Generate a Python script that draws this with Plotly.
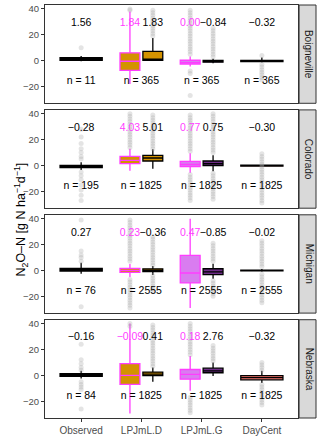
import plotly.graph_objects as go
from plotly.subplots import make_subplots

sites = ["Boigneville", "Colorado", "Michigan", "Nebraska"]
categories = ["Observed", "LPJmL.D", "LPJmL.G", "DayCent"]

# five-number summaries per site: [lower whisker, q1, median, q3, upper whisker]
observed_box = [[-0.5, 0.3, 1.2, 2.2, 3.5], [-3.5, -1.6, -0.8, 0.0, 2.5],
                [-2.5, -0.5, 0.5, 1.5, 6.0], [-2.5, -0.8, 0.3, 1.3, 3.5]]
lpjml_d_pink_box = [[-18, -7.5, -0.5, 6.0, 38], [-4, 1.5, 4.0, 7.0, 13],
                    [-5, -1.5, 0.0, 1.5, 5], [-29.5, -7, 0.0, 9.0, 40]]
lpjml_d_box = [[0, 0.3, 1.2, 7.2, 17.5], [-2.5, 3.5, 5.8, 7.8, 12.5],
               [-3.5, -1.0, 0.0, 1.2, 3.5], [-5, -0.3, 1.0, 2.5, 6]]
lpjml_g_pink_box = [[-4.5, -2.7, -1.5, 0.3, 3.2], [-5.5, -0.8, 0.8, 3.2, 9.5],
                    [-29, -9.7, -2.0, 11.7, 40], [-12, -3.0, 0.8, 4.5, 15]]
lpjml_g_box = [[-2, -1.2, -0.5, 0.2, 1.5], [-4.5, 0.0, 1.5, 3.5, 8.0],
               [-6.5, -3.3, -1.2, 1.3, 5.2], [-0.5, 2.0, 3.5, 5.5, 10]]
daycent_box = [[-1.5, -0.8, -0.3, 0.2, 2.5], [-1.0, -0.5, -0.2, 0.2, 0.8],
               [-1.0, -0.4, 0.0, 0.3, 1.0], [-6, -3.5, -1.8, -0.2, 3.5]]

# outlying daily values per site
observed_out = [
    [10],
    [28, 22, 17, 13, 10, 7, 5, -5, -8, -11, -15, -19, -23, -27],
    [39, 15, 12, 10, 7, -28],
    [24, 12, 9, 6, 4, -5, -7, -9, -11, -26],
]
lpjml_d_pink_out = [
    [39, 40],
    [14, 16, 18, 20, 22, 24, 26, 28, 30, 32, 34, 36, 38, 40],
    [7, 9, 11, 13, 15, 17, 19, 21, 23, 25, 27, 29, 31, 33, 35, 37, 39,
     -7, -9, -11, -13, -15, -17, -19, -21, -23, -25, -27, -29],
    [38, 40],
]
lpjml_d_out = [
    [19, 21, 23, 25, 27, 29, 31, 33, 35, 37, 39],
    [13, 15, 17, 19, 21, 23, 25, 27, 29, 31, 33, 35, 37, 39],
    [4, 6, 8, 10, 12, 14, 16, 18, 20, 22, 24, 26, -4, -6, -8, -10, -12, -14, -16],
    [7, 9, 11, 13, 15, 17, 19, 21, 23, 25, 27, 29, 31, 33, 35, 37, 39],
]
lpjml_g_pink_out = [
    [5, 7, 9, 11, 13, 15, 17, 19, 21, 23, 25, 27, 29, 31, 33, 35, 37, 39, -8, -10, -27],
    [11, 13, 15, 17, 19, 21, 23, 25, 27, 29, 31, 33, 35, 37, 39,
     -7, -9, -11, -13, -15, -17, -19, -21, -23, -25, -27],
    [],
    [16, 18, 20, 22, 24, 26, 28, 30, 32, 34, 36, 38, 40, -17, -19, -21, -23, -25, -27, -29],
]
lpjml_g_out = [
    [3, 5, 7, 9, 11, 13, 15, 17, 19, 21, 23, 25],
    [10, 12, 14, 16, 18, 20, 22, 24, 26, 28, 30, 32, 34, 36, 38, 40,
     -6, -8, -10, -12, -14, -16, -18, -20, -22, -24, -26],
    [7, 9, 11, 13, 15, 17, 19, 21, -8, -10, -12, -14, -16, -18, -20],
    [11, 13, 15, 17, 19, 21, 23],
]
daycent_out = [
    [4, -3, -5, -7, -9, -11, -13, -15],
    [9, 7, 5, 3, 1, -1, -3, -5, -7, -9, -11, -13, -15, -17, -19, -21, -23, -25, -27, -29],
    [23, 21, 19, 17, 15, 13, 11, 9, 7, 5, 3, -3, -5, -7, -9, -11, -13, -15,
     -17, -19, -21, -23, -25],
    [10, 8, 6, 4, -7, -9, -11, -13, -15, -17, -19, -21, -23],
]

observed_mean = [1.56, -0.28, 0.27, -0.16]
lpjml_d_pink_mean = [1.84, 4.03, 0.23, -0.09]
lpjml_d_mean = [1.83, 5.01, -0.36, 0.41]
lpjml_g_pink_mean = [0.00, 0.77, 0.47, 0.18]
lpjml_g_mean = [-0.84, 0.75, -0.85, 2.76]
daycent_mean = [-0.32, -0.30, -0.02, -0.32]

observed_n = [11, 195, 76, 84]
model_n = [365, 1825, 2555, 1825]

PINK = "#FF3DFF"
ORANGE = "#D39200"
LILAC = "#D97CF0"
PURPLE = "#6F2D88"
SALMON = "#F8766D"
GREY_PT = "rgba(165,165,165,0.3)"

# (stats, outliers, means, category index, dodge offset, width, fill, line colour)
series = [
    (observed_box, observed_out, observed_mean, 1, 0.0, 0.7, "black", "black"),
    (lpjml_d_pink_box, lpjml_d_pink_out, lpjml_d_pink_mean, 2, -0.19, 0.33, ORANGE, PINK),
    (lpjml_d_box, lpjml_d_out, lpjml_d_mean, 2, 0.19, 0.33, ORANGE, "black"),
    (lpjml_g_pink_box, lpjml_g_pink_out, lpjml_g_pink_mean, 3, -0.19, 0.33, LILAC, PINK),
    (lpjml_g_box, lpjml_g_out, lpjml_g_mean, 3, 0.19, 0.33, PURPLE, "black"),
    (daycent_box, daycent_out, daycent_mean, 4, 0.0, 0.7, SALMON, "black"),
]


def fmt(v):
    return f"{v:.2f}".replace("-", "\u2212")


fig = make_subplots(rows=4, cols=1, shared_xaxes=True, vertical_spacing=0.016)

for i, site in enumerate(sites):
    row = i + 1
    # outliers first so boxes sit on top
    for stats, outs, means, cat, off, w, fill, lc in series:
        if outs[i]:
            fig.add_trace(go.Scatter(
                x=[cat + off] * len(outs[i]), y=outs[i], mode="markers",
                marker=dict(color=GREY_PT, size=5, line=dict(width=0)),
                showlegend=False, hoverinfo="skip"), row=row, col=1)
    for stats, outs, means, cat, off, w, fill, lc in series:
        lo, q1, med, q3, hi = stats[i]
        fig.add_trace(go.Box(
            x=[cat + off], lowerfence=[lo], q1=[q1], median=[med], q3=[q3],
            upperfence=[hi], width=w, fillcolor=fill,
            line=dict(color=lc, width=1.3), whiskerwidth=0, boxpoints=False,
            showlegend=False, hoverinfo="skip"), row=row, col=1)
    for stats, outs, means, cat, off, w, fill, lc in series:
        fig.add_trace(go.Scatter(
            x=[cat + off], y=[29], mode="text", text=[fmt(means[i])],
            textfont=dict(size=10.5, color=PINK if lc == PINK else "black"),
            showlegend=False, hoverinfo="skip"), row=row, col=1)
    n_text = [f"n = {observed_n[i]}"] + [f"n = {model_n[i]}"] * 3
    fig.add_trace(go.Scatter(
        x=[1, 2, 3, 4], y=[-16] * 4, mode="text", text=n_text,
        textfont=dict(size=10.5, color="black"),
        showlegend=False, hoverinfo="skip"), row=row, col=1)

X_END = 0.9336
axis_style = dict(showgrid=False, zeroline=False, showline=True, mirror=True,
                  linecolor="#333333", linewidth=1)
fig.update_yaxes(range=[-33, 43], tickvals=[-20, 0, 20, 40], ticks="outside",
                 ticklen=3, tickcolor="#333333",
                 tickfont=dict(size=9.5, color="#4D4D4D"), **axis_style)
fig.update_xaxes(range=[0.4, 4.6], tickvals=[1, 2, 3, 4], ticktext=categories,
                 domain=[0, X_END], tickfont=dict(size=10, color="#4D4D4D"),
                 **axis_style)
fig.update_xaxes(ticks="outside", ticklen=3, tickcolor="#333333", row=4, col=1)

# facet strips on the right
for i, site in enumerate(sites):
    yname = "y" if i == 0 else f"y{i + 1}"
    fig.add_shape(type="rect", xref="paper", yref=f"{yname} domain",
                  x0=0.9375, x1=1.0, y0=0, y1=1,
                  fillcolor="#D9D9D9", line=dict(color="#333333", width=1),
                  layer="below")
    fig.add_annotation(text=site, xref="paper", yref=f"{yname} domain",
                       x=0.975, y=0.5, xanchor="center", yanchor="middle",
                       showarrow=False, textangle=90,
                       font=dict(size=10, color="#1A1A1A"))

fig.add_annotation(
    text="N<sub>2</sub>O\u2013N [g N ha<sup>\u22121</sup>d<sup>\u22121</sup>]",
    xref="paper", yref="paper", x=-0.13, y=0.48, showarrow=False,
    textangle=-90, font=dict(size=12.5, color="black"))

fig.update_layout(
    width=320, height=439, boxmode="overlay",
    margin=dict(l=45, r=4, t=3, b=20),
    paper_bgcolor="white", plot_bgcolor="white",
    font=dict(family="Liberation Sans, Arial, sans-serif"),
)

# drop the browser's default page margin so the figure sits at the window origin
fig.write_html("out.html", config={"displayModeBar": False},
               post_script="document.body.style.margin='0';"
                           "document.body.style.overflow='hidden';")
